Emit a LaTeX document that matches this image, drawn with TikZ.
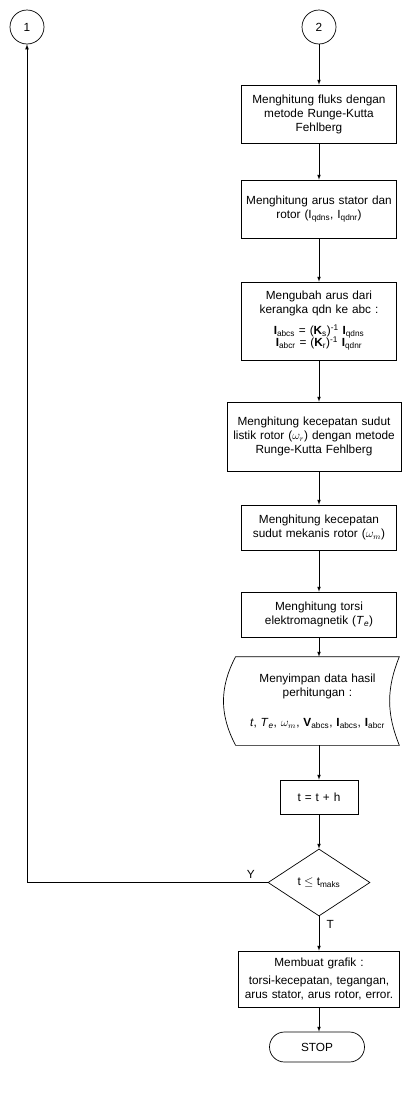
\documentclass[tikz,border=0pt]{standalone}
\usepackage{fontspec}
\setmainfont{Liberation Sans}
\usetikzlibrary{arrows,shapes.geometric}

\tikzset{
	process/.style={draw, rectangle, align=center, inner sep=2pt,
		text width=151pt, minimum height=45pt},
	connector/.style={draw, circle, minimum size=34pt, inner sep=0pt},
	decision/.style={draw, diamond, aspect=1.52, minimum width=102pt,
		minimum height=67pt, inner sep=0pt},
	terminal/.style={draw, rectangle, rounded corners=15pt, minimum width=95pt,
		minimum height=30pt},
	storebox/.style={rectangle, align=center, minimum width=163pt,
		text width=159pt, minimum height=88pt, inner sep=2pt}
}

\begin{document}
\begin{tikzpicture}[x=1pt, y=1pt, >=latex, line width=0.7pt, node distance=90pt,
	font=\fontsize{11.8}{14}\selectfont]
	\useasboundingbox (0,0) rectangle (404,-1106);

	% Connectors {1, 2}
	\node [connector] 							(c1) at (27,-27)	{1};
	\node [connector] 							(c2) at (319,-27)	{2};

	% Main column
	\node [process, minimum height=58pt]		(fluks) [below of=c2, node distance=87pt]
	{Menghitung fluks dengan\\ metode Runge-Kutta\\ Fehlberg};
	\node [process, minimum height=58pt]		(arus) [below of=fluks, node distance=95pt]
	{Menghitung arus stator dan\\ rotor (I\textsubscript{qdns}, I\textsubscript{qdnr})};
	\node [process, minimum height=78pt]		(ubah) [below of=arus, node distance=112pt]
	{Mengubah arus dari\\ kerangka qdn ke abc :\\[7pt]
	 \textbf{I}\textsubscript{abcs} = (\textbf{K}\textsubscript{s})\textsuperscript{-1} \textbf{I}\textsubscript{qdns}\\[-2pt]
	 \textbf{I}\textsubscript{abcr} = (\textbf{K}\textsubscript{r})\textsuperscript{-1} \textbf{I}\textsubscript{qdnr}};
	\node [process, text width=170pt, minimum height=69pt, xshift=-5pt]
												(listrik) [below of=ubah, node distance=115.5pt]
	{Menghitung kecepatan sudut\\ listik rotor ($\omega_r$) dengan metode\\ Runge-Kutta Fehlberg};
	\node [process]								(mekanis) [below of=listrik, node distance=91pt, xshift=5pt]
	{Menghitung kecepatan\\ sudut mekanis rotor ($\omega_m$)};
	\node [process]								(torsi) [below of=mekanis, node distance=87pt]
	{Menghitung torsi\\ elektromagnetik (\textit{T}\textsubscript{\textit{e}})};
	\node [storebox, xshift=-1.5pt]				(simpan) [below of=torsi, node distance=86.5pt]
	{Menyimpan data hasil\\ perhitungan :\\[16pt]
	 \textit{t}, \textit{T}\textsubscript{\textit{e}}, $\omega_m$, \textbf{V}\textsubscript{abcs}, \textbf{I}\textsubscript{abcs}, \textbf{I}\textsubscript{abcr}};
	\node [process, text width=74pt, minimum height=34pt, xshift=1.5pt]
												(waktu) [below of=simpan, node distance=96pt]
	{t = t + h};
	\node [decision]							(cek) [below of=waktu, node distance=85.5pt]
	{t $\leq$ t$_{\mathrm{maks}}$};
	\node [process, text width=159pt, inner sep=1pt, minimum height=56pt]
												(grafik) [below of=cek, node distance=96.5pt]
	{Membuat grafik :\\[4pt] torsi-kecepatan, tegangan,\\ arus stator, arus rotor, error.};
	\node [terminal, xshift=-2pt]				(stop) [below of=grafik, node distance=68pt]	{STOP};

	% Stored data outline
	\draw (simpan.north west) to [bend right=28] (simpan.south west)
		-- (simpan.south east) to [bend left=22] (simpan.north east) -- cycle;

	% Paths down the column
	\path [->]
	(c2) edge (fluks)
	(fluks) edge (arus)
	(arus) edge (ubah)
	(ubah) edge (listrik.north -| ubah.south)
	(listrik.south -| mekanis.north) edge (mekanis)
	(mekanis) edge (torsi)
	(torsi) edge (simpan.north -| torsi.south)
	(simpan.south -| waktu.north) edge (waktu)
	(waktu) edge (cek)
	(cek) edge node [right, pos=0.25, xshift=4pt] {T} (grafik)
	(grafik) edge (stop.north -| grafik.south);

	% Loop back to connector 1
	\draw [->] (cek.west) -| node [above, pos=0.035] {Y} (c1.south);

\end{tikzpicture}
\end{document}
